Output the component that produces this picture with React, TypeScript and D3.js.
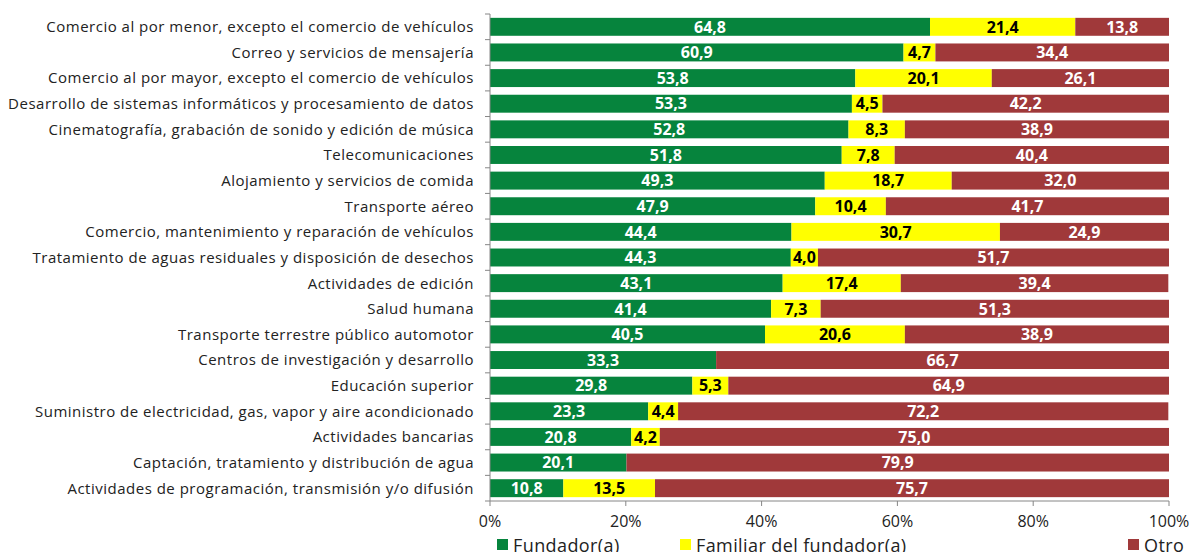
import React, { useRef, useEffect } from 'react';
import * as d3 from 'd3';

const categories = [
  'Comercio al por menor, excepto el comercio de vehículos',
  'Correo y servicios de mensajería',
  'Comercio al por mayor, excepto el comercio de vehículos',
  'Desarrollo de sistemas informáticos y procesamiento de datos',
  'Cinematografía, grabación de sonido y edición de música',
  'Telecomunicaciones',
  'Alojamiento y servicios de comida',
  'Transporte aéreo',
  'Comercio, mantenimiento y reparación de vehículos',
  'Tratamiento de aguas residuales y disposición de desechos',
  'Actividades de edición',
  'Salud humana',
  'Transporte terrestre público automotor',
  'Centros de investigación y desarrollo',
  'Educación superior',
  'Suministro de electricidad, gas, vapor y aire acondicionado',
  'Actividades bancarias',
  'Captación, tratamiento y distribución de agua',
  'Actividades de programación, transmisión y/o difusión',
];

const fundador = [64.8, 60.9, 53.8, 53.3, 52.8, 51.8, 49.3, 47.9, 44.4, 44.3, 43.1, 41.4, 40.5, 33.3, 29.8, 23.3, 20.8, 20.1, 10.8];
const familiar = [21.4, 4.7, 20.1, 4.5, 8.3, 7.8, 18.7, 10.4, 30.7, 4.0, 17.4, 7.3, 20.6, 0, 5.3, 4.4, 4.2, 0, 13.5];
const otro = [13.8, 34.4, 26.1, 42.2, 38.9, 40.4, 32.0, 41.7, 24.9, 51.7, 39.4, 51.3, 38.9, 66.7, 64.9, 72.2, 75.0, 79.9, 75.7];

const seriesNames = ['Fundador(a)', 'Familiar del fundador(a)', 'Otro'];
const seriesColors = ['#06843d', '#ffff00', '#a0393a'];
const labelColors = ['#ffffff', '#000000', '#ffffff'];
const xTicks = [0, 20, 40, 60, 80, 100];

const W = 1193;
const H = 552;
const margin = { top: 14, right: 24, bottom: 51, left: 490 };

const App = () => {
  const svgRef = useRef(null);

  useEffect(() => {
    const svg = d3.select(svgRef.current);
    svg.selectAll('*').remove();

    const innerW = W - margin.left - margin.right;
    const innerH = H - margin.top - margin.bottom;
    const font = '"Open Sans", sans-serif';
    const axisColor = '#868686';
    const textColor = '#222';

    const x = d3.scaleLinear().domain([0, 100]).range([0, innerW]);
    const y = d3.scaleBand().domain(categories).range([0, innerH]).paddingInner(0.3).paddingOuter(0.15);
    const step = y.step();

    const rows = categories.map((c, i) => ({ cat: c, vals: [fundador[i], familiar[i], otro[i]] }));

    const g = svg.append('g').attr('transform', `translate(${margin.left},${margin.top})`);

    rows.forEach(r => {
      let acc = 0;
      r.vals.forEach((v, k) => {
        const x0 = acc;
        acc += v;
        if (v <= 0) return;
        g.append('rect')
          .attr('x', x(x0))
          .attr('y', y(r.cat))
          .attr('width', x(acc) - x(x0))
          .attr('height', y.bandwidth())
          .attr('fill', seriesColors[k]);
        g.append('text')
          .attr('x', (x(x0) + x(acc)) / 2)
          .attr('y', y(r.cat) + y.bandwidth() / 2)
          .attr('dy', '0.36em')
          .attr('text-anchor', 'middle')
          .attr('font-family', font)
          .attr('font-weight', 'bold')
          .attr('font-size', 16)
          .attr('fill', labelColors[k])
          .text(v.toFixed(1).replace('.', ','));
      });
    });

    // category labels
    g.selectAll('text.cat')
      .data(categories)
      .join('text')
      .attr('class', 'cat')
      .attr('x', -16)
      .attr('y', d => y(d) + y.bandwidth() / 2)
      .attr('dy', '0.36em')
      .attr('text-anchor', 'end')
      .attr('font-family', font)
      .attr('font-size', 15)
      .attr('letter-spacing', 0.5)
      .attr('fill', textColor)
      .text(d => d);

    // left axis
    g.append('line')
      .attr('x1', 0).attr('x2', 0).attr('y1', 0).attr('y2', innerH)
      .attr('stroke', axisColor);
    d3.range(categories.length + 1).forEach(i => {
      g.append('line')
        .attr('x1', -5).attr('x2', 0)
        .attr('y1', i * step).attr('y2', i * step)
        .attr('stroke', axisColor);
    });

    // bottom axis
    g.append('line')
      .attr('x1', 0).attr('x2', innerW).attr('y1', innerH).attr('y2', innerH)
      .attr('stroke', axisColor);
    xTicks.forEach(t => {
      g.append('line')
        .attr('x1', x(t)).attr('x2', x(t))
        .attr('y1', innerH).attr('y2', innerH + 5)
        .attr('stroke', axisColor);
      g.append('text')
        .attr('x', x(t))
        .attr('y', innerH + 26)
        .attr('text-anchor', 'middle')
        .attr('font-family', font)
        .attr('font-size', 16)
        .attr('fill', textColor)
        .text(`${t}%`);
    });

    // legend
    const legendX = [497, 680, 1128];
    const lg = svg.append('g');
    seriesNames.forEach((name, k) => {
      lg.append('rect')
        .attr('x', legendX[k]).attr('y', 539)
        .attr('width', 11).attr('height', 11)
        .attr('fill', seriesColors[k]);
      lg.append('text')
        .attr('x', legendX[k] + 16)
        .attr('y', 552)
        .attr('font-family', font)
        .attr('font-size', 18)
        .attr('letter-spacing', 0.4)
        .attr('fill', textColor)
        .text(name);
    });
  }, []);

  return (
    <svg ref={svgRef} width={W} height={H} style={{ position: 'absolute', left: 0, top: 0, background: '#fff' }} />
  );
};

export default App;
